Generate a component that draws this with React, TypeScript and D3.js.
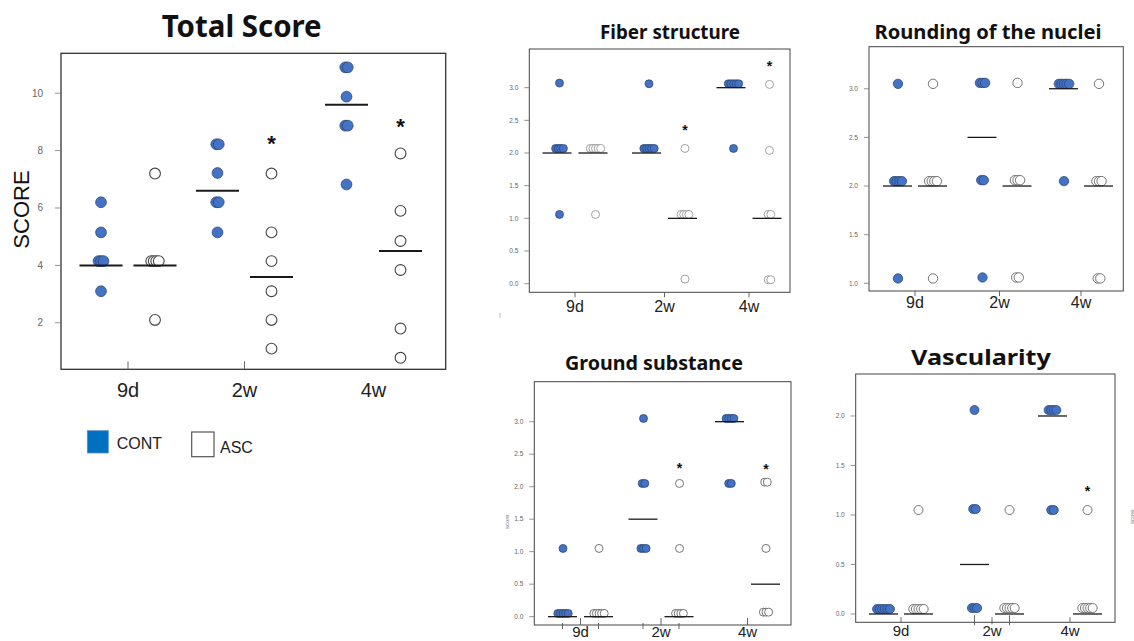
import * as d3 from "d3";

// categories
const groups = ["9d", "2w", "4w"];
const seriesNames = ["CONT", "ASC"];

// Total Score (values per group: 9d, 2w, 4w)
const totalCont = [
  [6.2, 5.15, 4.15, 4.15, 4.15, 3.1],
  [8.22, 8.22, 7.22, 6.2, 6.2, 5.15],
  [10.9, 10.9, 9.88, 8.87, 8.87, 6.82],
];
const totalAsc = [
  [7.2, 4.15, 4.15, 4.15, 4.15, 2.1],
  [7.2, 5.15, 4.15, 3.1, 2.1, 1.1],
  [7.9, 5.9, 4.85, 3.84, 1.8, 0.78],
];
const totalMedCont = [4.0, 6.6, 9.6];
const totalMedAsc = [4.0, 3.6, 4.5];
const totalStars = [null, 8.4, 9.0];
const totalTicks = [2, 4, 6, 8, 10];

// Fiber structure
const fiberCont = [
  [3.07, 2.07, 2.07, 2.07, 2.07, 1.06],
  [3.06, 2.07, 2.07, 2.07, 2.07, 2.07],
  [3.06, 3.06, 3.06, 3.06, 3.06, 2.07],
];
const fiberAsc = [
  [2.07, 2.07, 2.07, 2.07, 2.07, 1.06],
  [2.07, 1.06, 1.06, 1.06, 1.06, 0.07],
  [3.05, 2.04, 1.06, 1.06, 0.06, 0.06],
];
const fiberMedCont = [2, 2, 3];
const fiberMedAsc = [2, 1, 1];
const fiberStars = [null, 2.4, 3.37];

// Rounding of the nuclei
const roundCont = [
  [3.05, 2.05, 2.05, 2.05, 2.05, 1.05],
  [3.06, 3.06, 3.06, 2.06, 2.06, 1.06],
  [3.05, 3.05, 3.05, 3.05, 3.05, 2.05],
];
const roundAsc = [
  [3.05, 2.05, 2.05, 2.05, 2.05, 1.05],
  [3.06, 2.06, 2.06, 2.06, 1.06, 1.06],
  [3.05, 2.05, 2.05, 2.05, 1.05, 1.05],
];
const roundMedCont = [2, 2.5, 3];
const roundMedAsc = [2, 2, 2];
const roundStars = [null, null, null];

// Ground substance
const groundCont = [
  [1.05, 0.05, 0.05, 0.05, 0.05, 0.05],
  [3.05, 2.05, 2.05, 1.05, 1.05, 1.05],
  [3.05, 3.05, 3.05, 3.05, 2.05, 2.05],
];
const groundAsc = [
  [1.05, 0.05, 0.05, 0.05, 0.05, 0.05],
  [2.05, 1.05, 0.05, 0.05, 0.05, 0.05],
  [2.07, 2.07, 1.05, 0.07, 0.07, 0.07],
];
const groundMedCont = [0, 1.5, 3];
const groundMedAsc = [0, 0, 0.5];
const groundStars = [null, 2.33, 2.31];

// Vascularity
const vascCont = [
  [0.05, 0.05, 0.05, 0.05, 0.05, 0.05],
  [2.06, 1.06, 1.06, 0.06, 0.06, 0.06],
  [2.06, 2.06, 2.06, 2.06, 1.05, 1.05],
];
const vascAsc = [
  [1.05, 0.05, 0.05, 0.05, 0.05, 0.05],
  [1.05, 0.06, 0.06, 0.06, 0.06, 0.06],
  [1.05, 0.06, 0.06, 0.06, 0.06, 0.06],
];
const vascMedCont = [0, 0.5, 2];
const vascMedAsc = [0, 0, 0];
const vascStars = [null, null, 1.27];

const subTicks = [0, 0.5, 1, 1.5, 2, 2.5, 3];

const AXIS_FONT = "'Liberation Sans', Arial, sans-serif";
const TITLE_FONT = "'Noto Sans', 'Liberation Sans', sans-serif";
const BLUE = "#4472c4";

function Panel({ cfg, cont, asc, medCont, medAsc, stars, ticks }) {
  const [x0, y0, x1, y1] = cfg.box;
  const y = d3.scaleLinear().domain(cfg.yDomain).range([y1, y0]);
  const gx = d3.scaleOrdinal().domain(groups).range(cfg.centers);
  const slot = (g, s) => (s == null ? gx(g) : gx(g) + (s === 0 ? -cfg.off : cfg.off));
  const fmt = cfg.fmt;

  // spread identical values a little sideways so overlapping dots stay visible
  const dots = [];
  [cont, asc].forEach((series, s) =>
    series.forEach((vals, gi) => {
      const counts = d3.rollup(vals, (v) => v.length, (d) => d);
      const seen = new Map();
      vals.forEach((v) => {
        const n = counts.get(v);
        const j = seen.get(v) || 0;
        seen.set(v, j + 1);
        dots.push({
          s,
          cx: slot(groups[gi], s) + cfg.dx + (j - (n - 1) / 2) * cfg.spread,
          cy: y(v),
        });
      });
    })
  );

  const meds = [];
  [medCont, medAsc].forEach((m, s) =>
    m.forEach((v, gi) => meds.push({ x: slot(groups[gi], s), y: y(v) }))
  );

  return (
    <g>
      <text
        x={cfg.titleX}
        y={cfg.titleY}
        textAnchor="middle"
        fontFamily={TITLE_FONT}
        fontWeight="bold"
        fontSize={cfg.titleSize}
        textLength={cfg.titleLen}
        lengthAdjust="spacingAndGlyphs"
        fill="#111"
      >
        {cfg.title}
      </text>
      <rect x={x0} y={y0} width={x1 - x0} height={y1 - y0} fill="none" stroke={cfg.boxStroke} strokeWidth={cfg.boxWidth} />
      {ticks.map((t) => (
        <g key={t}>
          <line x1={x0 - cfg.tickLen} x2={x0} y1={y(t)} y2={y(t)} stroke="#777" strokeWidth={0.8} />
          <text
            x={x0 - cfg.labelGap}
            y={y(t)}
            dy="0.35em"
            textAnchor="end"
            fontFamily={AXIS_FONT}
            fontSize={cfg.tickFont}
            fill="#666"
          >
            {fmt(t)}
          </text>
        </g>
      ))}
      {cfg.xTicks.map((t, i) => (
        <line
          key={i}
          x1={slot(t.g, t.s)}
          x2={slot(t.g, t.s)}
          y1={y1 + t.a}
          y2={y1 + t.b}
          stroke="#555"
          strokeWidth={0.9}
        />
      ))}
      {groups.map((g) => (
        <text
          key={g}
          x={gx(g)}
          y={cfg.xLabelY}
          textAnchor="middle"
          fontFamily={AXIS_FONT}
          fontSize={cfg.xLabelSize}
          fill="#222"
        >
          {g}
        </text>
      ))}
      {dots.map((d, i) =>
        d.s === 0 ? (
          <circle key={i} cx={d.cx} cy={d.cy} r={cfg.r} fill={BLUE} stroke="#27406e" strokeWidth={0.7} />
        ) : (
          <circle key={i} cx={d.cx} cy={d.cy} r={cfg.r} fill="#fff" stroke={cfg.openStroke} strokeWidth={cfg.openWidth || 0.9} />
        )
      )}
      {meds.map((m, i) => (
        <line
          key={i}
          x1={m.x - cfg.half}
          x2={m.x + cfg.half}
          y1={m.y}
          y2={m.y}
          stroke="#1a1a1a"
          strokeWidth={cfg.medWidth}
        />
      ))}
      {stars.map((v, gi) =>
        v == null ? null : (
          <text
            key={gi}
            x={slot(groups[gi], 1) + cfg.dx}
            y={y(v) + cfg.starSize * 0.55}
            textAnchor="middle"
            fontFamily={AXIS_FONT}
            fontWeight="bold"
            fontSize={cfg.starSize}
            fill="#111"
          >
            *
          </text>
        )
      )}
      {cfg.yLabel ? (
        <text
          transform={`translate(${cfg.yLabel.x},${cfg.yLabel.y}) rotate(-90)`}
          textAnchor="middle"
          fontFamily={AXIS_FONT}
          fontSize={cfg.yLabel.size}
          fill={cfg.yLabel.color}
        >
          {cfg.yLabel.text}
        </text>
      ) : null}
    </g>
  );
}

const fmtInt = d3.format("d");
const fmt1 = d3.format(".1f");

const subBase = {
  fmt: fmt1,
  tickFont: 6.5,
  tickLen: 5,
  labelGap: 11,
  xLabelSize: 16,
  r: 4.3,
  spread: 2.6,
  half: 14.5,
  medWidth: 1.3,
  starSize: 14,
  openStroke: "#666",
  boxStroke: "#444",
  boxWidth: 1,
  titleSize: 20,
};

const totalCfg = {
  title: "Total Score",
  titleX: 241.7, titleY: 37, titleSize: 30, titleLen: 160,
  box: [61, 53.3, 445.7, 369.3],
  yDomain: [0.38, 11.39],
  centers: [128, 244.5, 373.5],
  off: 27, dx: 0, r: 5.4, spread: 2.5, half: 21.5, medWidth: 2,
  fmt: fmtInt, tickFont: 10, tickLen: 6, labelGap: 18,
  xTicks: [
    { g: "9d", s: null, a: -8, b: 0 },
    { g: "2w", s: null, a: -8, b: 0 },
  ],
  xLabelY: 397, xLabelSize: 20,
  starSize: 22, openStroke: "#444", openWidth: 1.1, boxStroke: "#333", boxWidth: 1.3,
  yLabel: { x: 28.5, y: 209.5, text: "SCORE", size: 22, color: "#111" },
};

const fiberCfg = {
  ...subBase,
  title: "Fiber structure",
  titleX: 670, titleY: 38.5, titleLen: 140,
  box: [529.3, 49, 790, 292.3],
  yDomain: [-0.132, 3.592],
  centers: [575, 664.5, 749],
  off: 18, dx: 2.5, r: 4,
  openStroke: "#999",
  xTicks: [
    { g: "9d", s: null, a: 0, b: 5 },
    { g: "2w", s: null, a: 0, b: 5 },
    { g: "4w", s: null, a: 0, b: 5 },
  ],
  xLabelY: 311.5,
};

const roundCfg = {
  ...subBase,
  title: "Rounding of the nuclei",
  titleX: 988, titleY: 38.5, titleLen: 227,
  box: [869, 46.7, 1123.3, 291],
  yDomain: [0.921, 3.432],
  centers: [915, 999.5, 1081],
  off: 17.5, dx: 0.5, r: 4.7,
  xTicks: [
    { g: "9d", s: null, a: 0, b: 5 },
    { g: "2w", s: null, a: 0, b: 5 },
    { g: "4w", s: null, a: 0, b: 5 },
  ],
  xLabelY: 308,
};

const groundCfg = {
  ...subBase,
  title: "Ground substance",
  titleX: 654, titleY: 370, titleLen: 178,
  box: [534.3, 381.7, 791, 625],
  yDomain: [-0.128, 3.615],
  centers: [580.5, 661, 747.5],
  off: 18, dx: 0.5, r: 4,
  xTicks: [
    { g: "9d", s: 0, a: -2, b: 4 },
    { g: "9d", s: null, a: -7, b: 0 },
    { g: "9d", s: 1, a: -2, b: 4 },
    { g: "2w", s: 0, a: -2, b: 4 },
    { g: "2w", s: null, a: -7, b: 0 },
    { g: "2w", s: 1, a: -2, b: 4 },
    { g: "4w", s: null, a: -7, b: 0 },
  ],
  xLabelY: 636.5, xLabelSize: 15,
  yLabel: { x: 508.7, y: 521.7, text: "score", size: 6, color: "#777" },
};

const vascCfg = {
  ...subBase,
  title: "Vascularity",
  titleX: 981, titleY: 365, titleSize: 22, titleLen: 140,
  box: [855.7, 374, 1115, 622.3],
  yDomain: [-0.084, 2.424],
  centers: [901, 992, 1070],
  off: 17.5, dx: 0, r: 4.5,
  xTicks: [
    { g: "9d", s: null, a: -5, b: 0 },
    { g: "2w", s: 0, a: -7, b: 3 },
    { g: "2w", s: null, a: -5, b: 2 },
    { g: "2w", s: 1, a: -7, b: 3 },
    { g: "4w", s: null, a: -5, b: 0 },
  ],
  xLabelY: 636, xLabelSize: 15,
  yLabel: { x: 1133.7, y: 516.7, text: "score", size: 6, color: "#777" },
};

export default function App() {
  return (
    <svg
      width={1134}
      height={641}
      viewBox="0 0 1134 641"
      style={{ position: "absolute", left: 0, top: 0, background: "#fff" }}
    >
      <rect x={0} y={0} width={1134} height={641} fill="#fff" />
      <Panel cfg={totalCfg} cont={totalCont} asc={totalAsc} medCont={totalMedCont} medAsc={totalMedAsc} stars={totalStars} ticks={totalTicks} />
      <Panel cfg={fiberCfg} cont={fiberCont} asc={fiberAsc} medCont={fiberMedCont} medAsc={fiberMedAsc} stars={fiberStars} ticks={subTicks} />
      <Panel cfg={roundCfg} cont={roundCont} asc={roundAsc} medCont={roundMedCont} medAsc={roundMedAsc} stars={roundStars} ticks={subTicks.filter((t) => t >= 1)} />
      <Panel cfg={groundCfg} cont={groundCont} asc={groundAsc} medCont={groundMedCont} medAsc={groundMedAsc} stars={groundStars} ticks={subTicks} />
      <Panel cfg={vascCfg} cont={vascCont} asc={vascAsc} medCont={vascMedCont} medAsc={vascMedAsc} stars={vascStars} ticks={subTicks.filter((t) => t <= 2)} />
      <line x1={500} x2={500} y1={313} y2={318} stroke="#aaa" strokeWidth={0.8} />
      {/* legend */}
      <g fontFamily={AXIS_FONT} fontSize={16} fill="#222">
        <rect x={87.3} y={430.7} width={21} height={22.3} fill="#0070c0" stroke="#5b8fd0" strokeWidth={0.8} />
        <text x={116.7} y={449.3}>{seriesNames[0]}</text>
        <rect x={191.7} y={432} width={22.3} height={24.7} fill="#fff" stroke="#555" strokeWidth={1.2} />
        <text x={220} y={453.3}>{seriesNames[1]}</text>
      </g>
    </svg>
  );
}
